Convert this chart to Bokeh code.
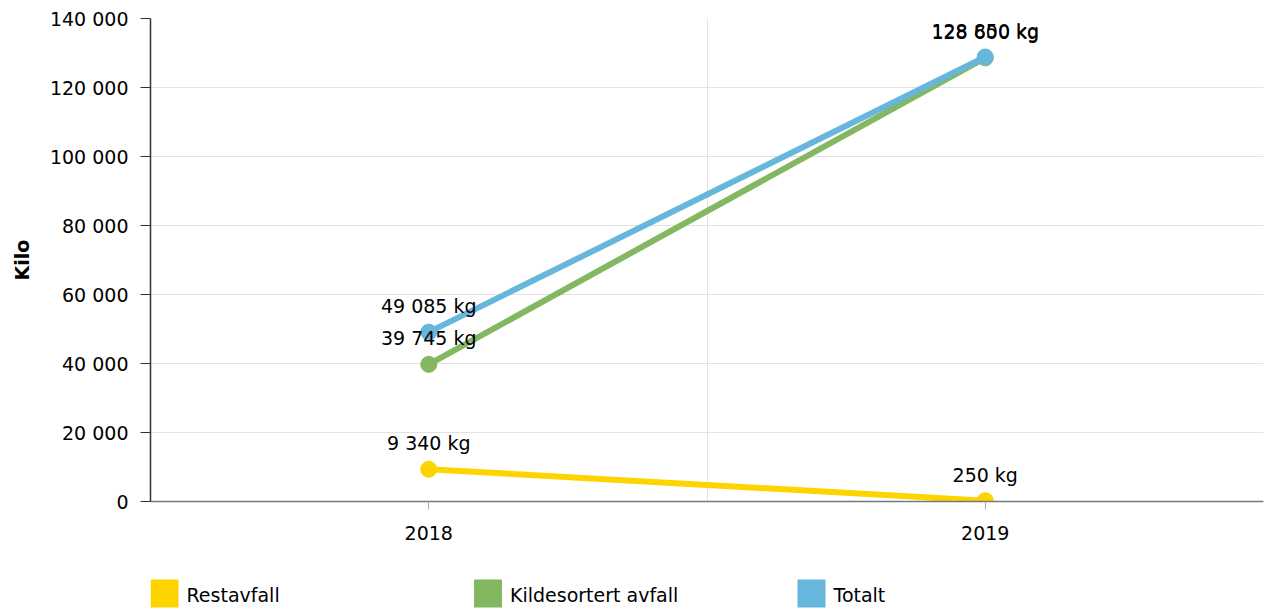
from bokeh.plotting import figure
from bokeh.layouts import column
from bokeh.models import (Range1d, FixedTicker, CustomJSTickFormatter, ColumnDataSource)
from bokeh.core.properties import value
from bokeh.embed import file_html
from bokeh.resources import INLINE

years = ["2018", "2019"]
restavfall = [9340, 250]
kildesortert = [39745, 128600]
totalt = [49085, 128850]
series_names = ["Restavfall", "Kildesortert avfall", "Totalt"]
series_values = [restavfall, kildesortert, totalt]
colors = ["#FDD400", "#84B761", "#67B7DC"]
y_ticks = [0, 20000, 40000, 60000, 80000, 100000, 120000, 140000]

FONT = "DejaVu Sans"


def fmt(v):
    return f"{v:,}".replace(",", " ") + " kg"


p = figure(width=1267, height=560, output_backend="svg", toolbar_location=None,
           x_range=Range1d(-0.5, 1.5), y_range=Range1d(0, 140000),
           min_border_left=150, min_border_top=18, min_border_right=4, min_border_bottom=59)
p.outline_line_color = None
p.background_fill_color = "white"

# axes
p.yaxis.ticker = FixedTicker(ticks=y_ticks)
p.yaxis.formatter = CustomJSTickFormatter(
    code="return tick.toFixed(0).replace(/\\B(?=(\\d{3})+(?!\\d))/g, ' ');")
p.yaxis.axis_label = "Kilo"
p.yaxis.axis_label_text_font = FONT
p.yaxis.axis_label_text_font_style = "bold"
p.yaxis.axis_label_text_font_size = "19px"
p.yaxis.axis_label_text_color = "#000000"
p.yaxis.axis_label_standoff = 14
p.yaxis.major_label_text_font = FONT
p.yaxis.major_label_text_font_size = "19px"
p.yaxis.major_label_text_color = "#000000"
p.yaxis.major_label_standoff = 12
p.yaxis.major_tick_in = 0
p.yaxis.major_tick_out = 10
p.yaxis.minor_tick_line_color = None
p.yaxis.axis_line_color = "#333333"
p.yaxis.axis_line_width = 1.5
p.yaxis.major_tick_line_color = "#333333"

p.xaxis.ticker = FixedTicker(ticks=[0, 1])
p.xaxis.formatter = CustomJSTickFormatter(args=dict(years=years),
                                          code="return years[Math.round(tick)] || '';")
p.xaxis.major_label_text_font = FONT
p.xaxis.major_label_text_font_size = "19px"
p.xaxis.major_label_text_color = "#000000"
p.xaxis.major_label_standoff = 16
p.xaxis.major_tick_in = 0
p.xaxis.major_tick_out = 8
p.xaxis.minor_tick_line_color = None
p.xaxis.axis_line_color = "#777777"
p.xaxis.axis_line_width = 1.5
p.xaxis.major_tick_line_color = "#aaaaaa"

p.ygrid.ticker = FixedTicker(ticks=y_ticks)
p.ygrid.grid_line_color = "#e2e2e2"
p.xgrid.ticker = FixedTicker(ticks=[0.5, 1.5])
p.xgrid.grid_line_color = "#e2e2e2"

x_pos = list(range(len(years)))

for name, vals, col in zip(series_names, series_values, colors):
    src = ColumnDataSource(dict(x=x_pos, y=vals))
    p.line("x", "y", source=src, line_color=col, line_width=6)
    p.scatter("x", "y", source=src, size=16, fill_color=col, line_color=col)

for name, vals, col in zip(series_names, series_values, colors):
    src = ColumnDataSource(dict(x=x_pos, y=vals, lbl=[fmt(v) for v in vals]))
    p.text("x", "y", text="lbl", source=src, text_font=value(FONT), text_font_size="19px",
           text_align="center", text_baseline="middle", y_offset=-26, text_color="#000000")

# legend strip below the chart; frame aligned with the main frame (150..1263 px)
lf = figure(width=1267, height=49, output_backend="svg", toolbar_location=None,
            x_range=Range1d(150, 1263), y_range=Range1d(0, 49),
            x_axis_location=None, y_axis_location=None,
            min_border_left=150, min_border_right=4, min_border_top=0, min_border_bottom=0)
lf.outline_line_color = None
lf.xgrid.visible = False
lf.ygrid.visible = False

leg_x = [150 + i * 323.5 for i in range(len(series_names))]
leg_src = ColumnDataSource(dict(
    left=leg_x, right=[x + 28 for x in leg_x],
    bottom=[2] * len(leg_x), top=[30] * len(leg_x),
    tx=[x + 36 for x in leg_x], ty=[15] * len(leg_x),
    name=series_names, color=colors))
lf.quad(left="left", right="right", bottom="bottom", top="top", source=leg_src,
        fill_color="color", line_color=None)
lf.text("tx", "ty", text="name", source=leg_src, text_font=value(FONT),
        text_font_size="19px", text_align="left", text_baseline="middle",
        text_color="#000000")

layout = column(p, lf, spacing=0)
open("out.html", "w").write(file_html(layout, INLINE))
